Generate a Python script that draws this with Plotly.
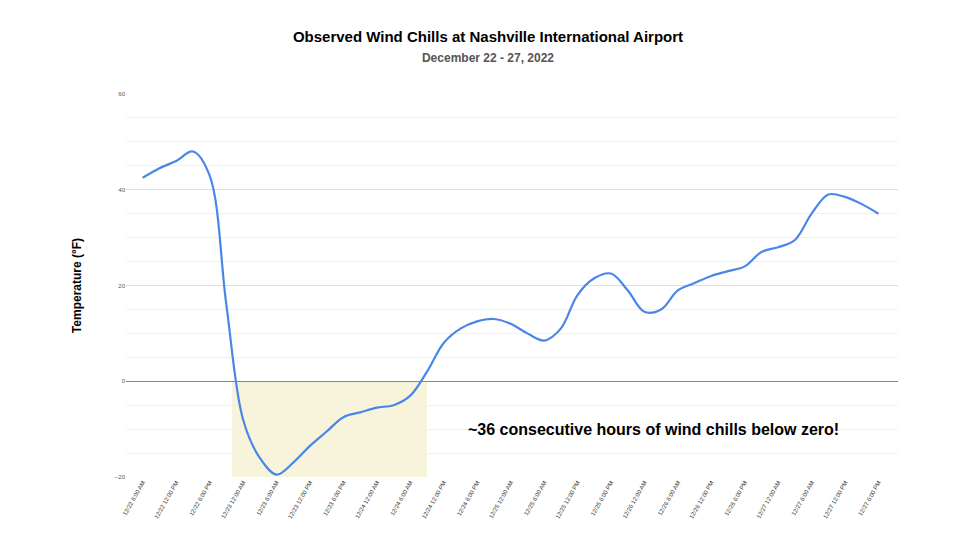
import pandas as pd
import plotly.graph_objects as go

# wind chill readings every 3 hours, 12/22 6:00 AM .. 12/27 6:00 PM
wind_chill = [42.5, 44.5, 46, 48, 43, 16, -8, -16, -19.5, -17, -13.5, -10.5, -7.5, -6.5, -5.5,
              -5, -3, 2, 8, 11, 12.5, 13, 12, 10, 8.5, 11, 18, 21.5, 22.5, 19, 14.5, 15, 19,
              20.5, 22, 23, 24, 27, 28, 29.5, 35, 39, 38.5, 37, 35]
times = pd.date_range("2022-12-22 06:00", periods=len(wind_chill), freq="3h")

tick_times = pd.date_range("2022-12-22 06:00", "2022-12-27 18:00", freq="6h")
tick_labels = [t.strftime("%m/%d ") + t.strftime("%I:%M %p").lstrip("0") for t in tick_times]

below_start = "2022-12-22 22:00"
below_end = "2022-12-24 09:00"

fig = go.Figure()
fig.add_shape(type="rect", xref="x", yref="y", x0=below_start, x1=below_end, y0=-20, y1=0,
              fillcolor="#f8f4dc", line_width=0, layer="below")
fig.add_trace(go.Scatter(x=times, y=wind_chill, mode="lines",
                         line=dict(color="#4a86e8", width=2.2, shape="spline", smoothing=1.0)))

fig.add_annotation(x="2022-12-24 16:00", y=-10, xanchor="left", showarrow=False,
                   text="<b>~36 consecutive hours of wind chills below zero!</b>",
                   font=dict(size=16, color="black"))

fig.update_layout(
    width=960, height=540, plot_bgcolor="white", paper_bgcolor="white",
    margin=dict(l=118, r=70, t=86, b=71), showlegend=False,
    font=dict(family="Liberation Sans, Arial, sans-serif"),
    title=dict(text="<b>Observed Wind Chills at Nashville International Airport</b><br>"
                    "<span style='font-size:12px;color:#555'><b>December 22 - 27, 2022</b></span>",
               x=0.5, xanchor="center", y=0.937, yanchor="top",
               font=dict(size=15, color="black")),
)
fig.update_xaxes(range=["2022-12-22 03:00", "2022-12-27 21:30"], tickvals=tick_times,
                 ticktext=tick_labels, tickangle=-60, tickfont=dict(size=6, color="#333"),
                 showgrid=False, showline=False, zeroline=False, automargin=False)
fig.update_yaxes(range=[-20, 60], dtick=20, tickfont=dict(size=6, color="#555"),
                 gridcolor="#e0e0e0", minor=dict(dtick=5, showgrid=True, gridcolor="#f0f0f0"),
                 zeroline=True, zerolinecolor="#888", zerolinewidth=1, automargin=False,
                 title=dict(text="<b>Temperature (°F)</b>", font=dict(size=12, color="black"),
                            standoff=30))

fig.write_html("out.html")
